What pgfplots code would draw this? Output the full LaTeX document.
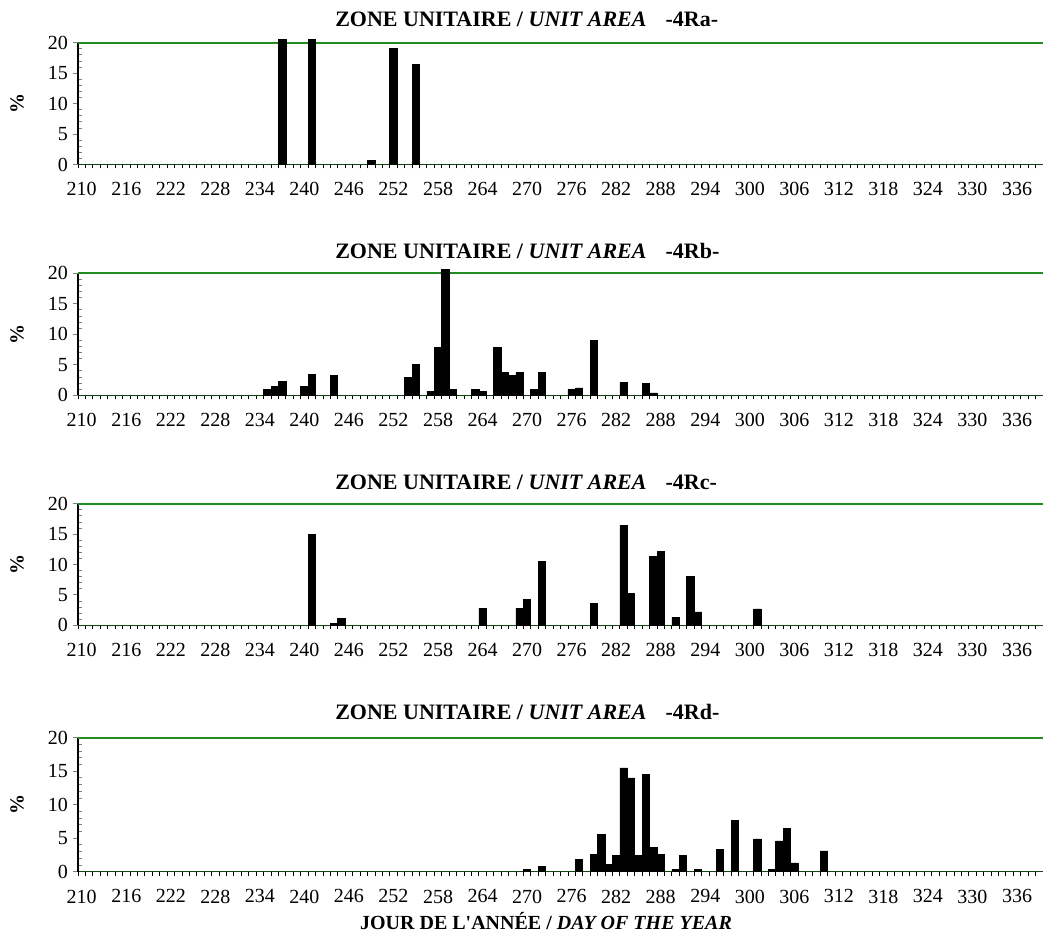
\documentclass[border=0pt]{standalone}
\usepackage{fontspec}
\setmainfont{Liberation Serif}
\usepackage{pgfplots}
\pgfplotsset{compat=1.18}
\usepackage{pgfplotstable}

\definecolor{gline}{RGB}{34,139,34}
\definecolor{aline}{RGB}{20,70,20}

\pgfplotstableread{
day val
237 20.6
241 20.6
249 0.6
252 19.1
255 16.4
}\dataA

\pgfplotstableread{
day val
235 0.9
236 1.5
237 2.3
240 1.5
241 3.4
244 3.2
254 2.9
255 5.0
257 0.7
258 7.9
259 20.6
260 1.0
263 0.9
264 0.7
266 7.9
267 3.7
268 3.2
269 3.7
271 0.9
272 3.7
276 0.9
277 1.2
279 9.0
283 2.1
286 2.0
287 0.4
}\dataB

\pgfplotstableread{
day val
241 15.0
244 0.3
245 1.1
264 2.8
269 2.8
270 4.2
272 10.5
279 3.6
283 16.4
284 5.3
287 11.3
288 12.1
290 1.3
292 8.0
293 2.2
301 2.7
}\dataC

\pgfplotstableread{
day val
270 0.35
272 0.8
277 1.8
279 2.6
280 5.6
281 1.1
282 2.4
283 15.5
284 14.0
285 2.4
286 14.5
287 3.6
288 2.6
290 0.35
291 2.4
293 0.35
296 3.3
298 7.7
301 4.9
303 0.35
304 4.6
305 6.4
306 1.3
310 3.1
}\dataD

\pgfplotsset{
  panel/.style={
    scale only axis,
    width=723.75pt,
    anchor=south west,
    xmin=209.5, xmax=339.5, ymin=0, ymax=20,
    axis x line*=bottom, axis y line*=left,
    x axis line style={-, draw=aline, line width=1.1pt},
    y axis line style={-, draw=black, line width=0.8pt},
    xtick={210,216,...,336},
    every major x tick/.append style={draw=none},
    minor xtick={209.5,210.5,...,339.5},
    every minor x tick/.append style={black, line width=0.6pt},
    ytick={0,5,10,15,20},
    minor ytick={1,2,3,4,6,7,8,9,11,12,13,14,16,17,18,19},
    every minor y tick/.append style={xshift=3pt, line width=0.6pt},
    every major y tick/.append style={line width=0.7pt},
    tick align=outside,
    major tick length=4pt,
    minor tick length=3pt,
    ticklabel style={font=\fontsize{15}{15}\selectfont},
    /pgf/number format/assume math mode=true,
    xticklabel style={yshift=-6pt},
    extra y ticks={20},
    extra y tick labels={},
    extra y tick style={grid=major, major grid style={gline, line width=1.3pt}},
    clip=false,
    ybar, bar width=1,
  },
  bars/.style={fill=black, draw=black, line width=0.5pt},
}

\newcommand{\paneltitle}[1]{{\bfseries\fontsize{16.5}{18}\selectfont ZONE UNITAIRE / \textit{UNIT AREA}\hspace{14.25pt}#1}}

\begin{document}
\begin{tikzpicture}
\useasboundingbox (0,0) rectangle (782.25pt,708.75pt);

\begin{axis}[panel, at={(58.5pt,585.375pt)}, height=91.35pt]
\addplot[bars] table[x=day,y=val]{\dataA};
\end{axis}

\begin{axis}[panel, at={(58.5pt,412.275pt)}, height=91.5pt]
\addplot[bars] table[x=day,y=val]{\dataB};
\end{axis}

\begin{axis}[panel, at={(58.5pt,239.775pt)}, height=91.2pt]
\addplot[bars] table[x=day,y=val]{\dataC};
\end{axis}

\begin{axis}[panel, at={(58.5pt,54.975pt)}, height=100.5pt]
\addplot[bars] table[x=day,y=val]{\dataD};
\end{axis}

\node[anchor=base west, inner sep=0pt] at (251.25pt,688.5pt) {\paneltitle{-4Ra-}};
\node[anchor=base west, inner sep=0pt] at (251.25pt,515.0pt) {\paneltitle{-4Rb-}};
\node[anchor=base west, inner sep=0pt] at (251.25pt,341.8pt) {\paneltitle{-4Rc-}};
\node[anchor=base west, inner sep=0pt] at (251.25pt,168.75pt) {\paneltitle{-4Rd-}};

\foreach \yy in {631.05,458.0,285.4,105.2}{
  \node[rotate=90, inner sep=0pt, font=\bfseries\fontsize{15}{15}\selectfont] at (12.75pt,\yy pt) {\%};
}

\node[anchor=base, inner sep=0pt, font=\bfseries\fontsize{15}{15}\selectfont] at (409.5pt,11.25pt) {JOUR DE L\textquotesingle ANNÉE / \textit{DAY OF THE YEAR}};
\end{tikzpicture}
\end{document}
